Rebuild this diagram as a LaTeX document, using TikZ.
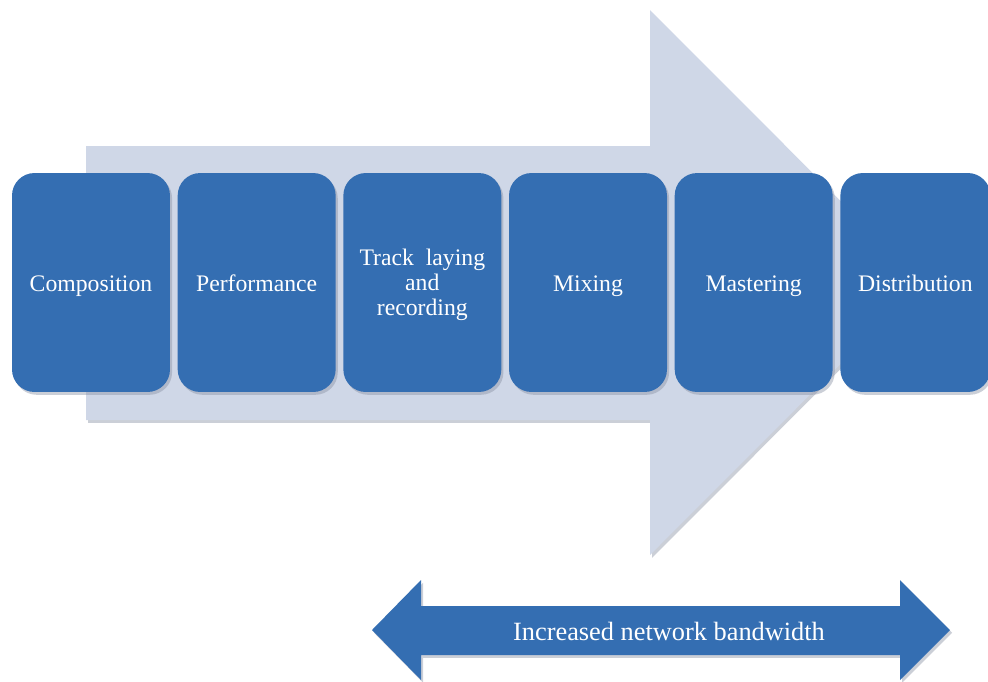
\documentclass[tikz,border=0pt]{standalone}
\usepackage{fontspec}
\setmainfont{Liberation Serif}
\usetikzlibrary{positioning,shadows}
\definecolor{StageBlue}{HTML}{346EB2}
\definecolor{FlowGrey}{HTML}{CFD7E7}
\definecolor{ShadeGrey}{HTML}{8C94A6}

\begin{document}
\begin{tikzpicture}[
    x=0.02cm,y=-0.02cm,
    node distance=0.14cm,
    soft/.style={drop shadow={shadow xshift=1.2pt,shadow yshift=-1.6pt,opacity=.45,fill=ShadeGrey}},
    stage/.style={soft,fill=StageBlue,rounded corners=0.45cm,minimum width=3.16cm,minimum height=4.38cm,inner sep=2pt,align=center,text=white,font=\fontsize{13.5}{14.2}\selectfont,execute at begin node=\rule[-4pt]{0pt}{18.3pt}},
    flow/.style={soft,fill=FlowGrey},
    band/.style={soft,fill=StageBlue},
    bandlabel/.style={text=white,font=\fontsize{15}{16}\selectfont}
  ]
    \useasboundingbox (0,0) rectangle (988,681);
    % wide process arrow behind the stages
    \fill[flow] (86,146) -- (650,146) -- (650,10) -- (922,282.5) -- (650,555) -- (650,420) -- (86,420) -- cycle;
    \node[stage] (comp) at (91,282.5) {Composition};
    \node[stage,right=of comp] (perf) {Performance};
    \node[stage,right=of perf] (track) {\rule{0pt}{13.3pt}Track\ \ laying\\and\\recording};
    \node[stage,right=of track] (mix) {Mixing};
    \node[stage,right=of mix] (master) {Mastering};
    \node[stage,right=of master,minimum width=3.0cm] (distrib) {Distribution};
    % bandwidth arrow, pointing both ways
    \fill[band] (372,630) -- (421,580) -- (421,606) -- (900,606) -- (900,580) -- (950,630) -- (900,680) -- (900,655) -- (421,655) -- (421,680) -- cycle;
    \node[bandlabel] (bw) at (669,631) {Increased network bandwidth};
  \end{tikzpicture}
\end{document}
